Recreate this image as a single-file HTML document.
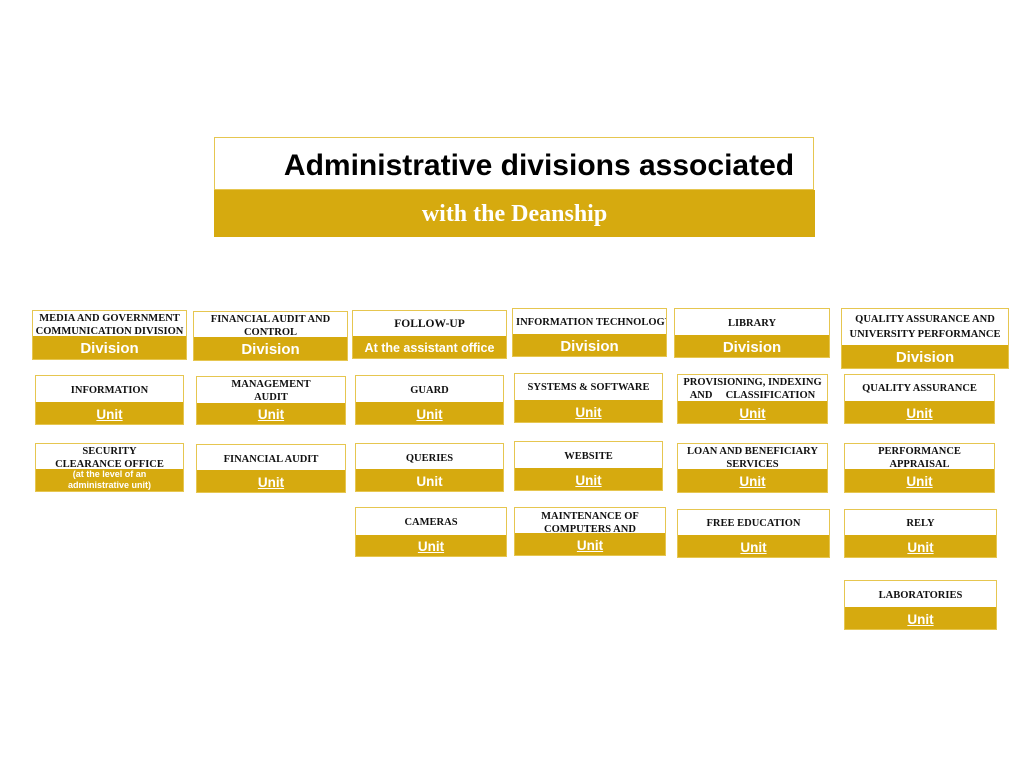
<!DOCTYPE html>
<html><head><meta charset="utf-8"><style>
body{margin:0;width:1024px;height:768px;background:#fff;position:relative;overflow:hidden}
.b{position:absolute;border:1px solid #e6c650;box-sizing:border-box;background:#fff;overflow:hidden}
.t{position:absolute;left:0;right:0;top:0;display:flex;align-items:center;justify-content:center;text-align:center;font-family:"Liberation Serif",serif;font-weight:bold;font-size:10.5px;line-height:13px;color:#111;white-space:nowrap}
.g{position:absolute;left:0;right:0;bottom:0;background:#d6aa0f;color:#fff;font-family:"Liberation Sans",sans-serif;font-weight:bold;display:flex;align-items:center;justify-content:center;text-align:center;white-space:nowrap;padding-top:2px;box-sizing:border-box}
.u{font-size:13.5px;text-decoration:underline}
.d{font-size:15px}
</style></head><body>
<div style="position:absolute;left:214px;top:137px;width:600px;height:53px;border:1px solid #e6c650;box-sizing:border-box;font-family:'Liberation Sans',sans-serif;font-weight:bold;font-size:30px;color:#000;display:flex;align-items:center;justify-content:center;padding-left:50px;padding-top:4px">Administrative divisions associated</div>
<div style="position:absolute;left:214px;top:190px;width:601px;height:47px;background:#d6aa0f;color:#fff;font-family:'Liberation Serif',serif;font-weight:bold;font-size:24px;display:flex;align-items:center;justify-content:center;padding-top:2px;box-sizing:border-box">with the Deanship</div>

<!-- row1 -->
<div class="b" style="left:32px;top:310px;width:155px;height:50px"><div class="t" style="height:27px">MEDIA AND GOVERNMENT<br>COMMUNICATION DIVISION</div><div class="g d" style="height:23px">Division</div></div>
<div class="b" style="left:193px;top:311px;width:155px;height:50px"><div class="t" style="height:27px">FINANCIAL AUDIT AND<br>CONTROL</div><div class="g d" style="height:23px">Division</div></div>
<div class="b" style="left:352px;top:310px;width:155px;height:49px"><div class="t" style="height:27px;font-size:11.5px">FOLLOW-UP</div><div class="g" style="height:22px;font-size:12.5px">At the assistant office</div></div>
<div class="b" style="left:512px;top:308px;width:155px;height:49px"><div class="t" style="height:27px;justify-content:flex-start;padding-left:3px">INFORMATION TECHNOLOGY</div><div class="g d" style="height:22px">Division</div></div>
<div class="b" style="left:674px;top:308px;width:156px;height:50px"><div class="t" style="height:28px">LIBRARY</div><div class="g d" style="height:22px">Division</div></div>
<div class="b" style="left:841px;top:308px;width:168px;height:61px"><div class="t" style="height:36px;line-height:15px">QUALITY ASSURANCE AND<br>UNIVERSITY PERFORMANCE</div><div class="g d" style="height:23px">Division</div></div>

<!-- row2 -->
<div class="b" style="left:35px;top:375px;width:149px;height:50px"><div class="t" style="height:28px">INFORMATION</div><div class="g u" style="height:22px">Unit</div></div>
<div class="b" style="left:196px;top:376px;width:150px;height:49px"><div class="t" style="height:28px">MANAGEMENT<br>AUDIT</div><div class="g u" style="height:21px">Unit</div></div>
<div class="b" style="left:355px;top:375px;width:149px;height:50px"><div class="t" style="height:28px">GUARD</div><div class="g u" style="height:22px">Unit</div></div>
<div class="b" style="left:514px;top:373px;width:149px;height:50px"><div class="t" style="height:26px">SYSTEMS &amp; SOFTWARE</div><div class="g u" style="height:22px">Unit</div></div>
<div class="b" style="left:677px;top:374px;width:151px;height:50px"><div class="t" style="height:28px">PROVISIONING, INDEXING<br>AND &nbsp;&nbsp;&nbsp; CLASSIFICATION</div><div class="g u" style="height:22px">Unit</div></div>
<div class="b" style="left:844px;top:374px;width:151px;height:50px"><div class="t" style="height:26px">QUALITY ASSURANCE</div><div class="g u" style="height:22px">Unit</div></div>

<!-- row3 -->
<div class="b" style="left:35px;top:443px;width:149px;height:49px"><div class="t" style="height:27px">SECURITY<br>CLEARANCE OFFICE</div><div class="g" style="height:22px;font-size:9px;line-height:11px;padding-top:0">(at the level of an<br>administrative unit)</div></div>
<div class="b" style="left:196px;top:444px;width:150px;height:49px"><div class="t" style="height:28px">FINANCIAL AUDIT</div><div class="g u" style="height:22px">Unit</div></div>
<div class="b" style="left:355px;top:443px;width:149px;height:49px"><div class="t" style="height:28px">QUERIES</div><div class="g" style="height:22px;font-size:13.5px">Unit</div></div>
<div class="b" style="left:514px;top:441px;width:149px;height:50px"><div class="t" style="height:28px">WEBSITE</div><div class="g u" style="height:22px">Unit</div></div>
<div class="b" style="left:677px;top:443px;width:151px;height:50px"><div class="t" style="height:27px">LOAN AND BENEFICIARY<br>SERVICES</div><div class="g u" style="height:23px">Unit</div></div>
<div class="b" style="left:844px;top:443px;width:151px;height:50px"><div class="t" style="height:27px">PERFORMANCE<br>APPRAISAL</div><div class="g u" style="height:23px">Unit</div></div>

<!-- row4 -->
<div class="b" style="left:355px;top:507px;width:152px;height:50px"><div class="t" style="height:29px">CAMERAS</div><div class="g u" style="height:21px">Unit</div></div>
<div class="b" style="left:514px;top:507px;width:152px;height:49px"><div class="t" style="height:28px;align-items:flex-start;padding-top:2px">MAINTENANCE OF<br>COMPUTERS AND</div><div class="g u" style="height:22px">Unit</div></div>
<div class="b" style="left:677px;top:509px;width:153px;height:49px"><div class="t" style="height:27px">FREE EDUCATION</div><div class="g u" style="height:22px">Unit</div></div>
<div class="b" style="left:844px;top:509px;width:153px;height:49px"><div class="t" style="height:27px">RELY</div><div class="g u" style="height:22px">Unit</div></div>

<!-- row5 -->
<div class="b" style="left:844px;top:580px;width:153px;height:50px"><div class="t" style="height:28px">LABORATORIES</div><div class="g u" style="height:22px">Unit</div></div>
</body></html>
